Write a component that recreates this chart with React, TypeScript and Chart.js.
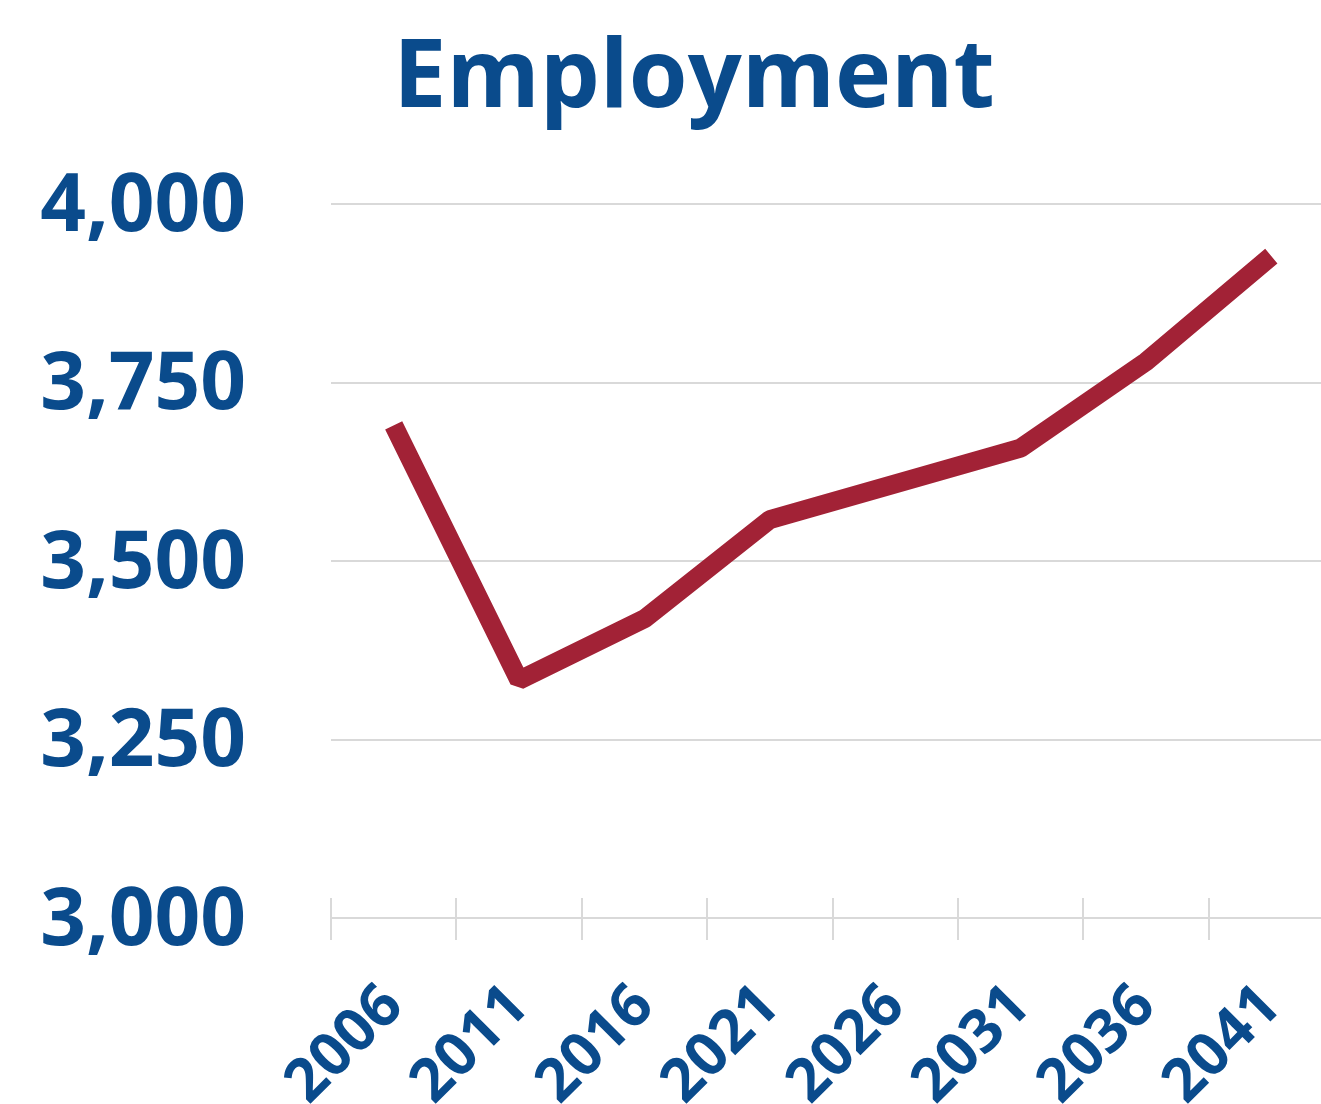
import React, { useEffect, useRef } from "react";
import { Chart, registerables } from "chart.js";

Chart.register(...registerables);

const years = ["2006", "2011", "2016", "2021", "2026", "2031", "2036", "2041"];
const employment = [3690, 3333, 3419, 3558, 3608, 3658, 3779, 3927];
const yMin = 3000;
const yMax = 4000;
const yStep = 250;
const titleText = "Employment";

const TEXT_COLOR = "#0a4b8c";
const LINE_COLOR = "#a22236";
const GRID_COLOR = "#d9d9d9";
const FONT = "'Open Sans', 'DejaVu Sans', sans-serif";

const tickMarks = {
  id: "tickMarks",
  beforeDatasetsDraw(chart: any) {
    const x = chart.scales.x;
    const y = chart.scales.y;
    const base = y.getPixelForValue(yMin);
    const ctx = chart.ctx;
    const n = x.ticks.length;
    ctx.save();
    ctx.strokeStyle = GRID_COLOR;
    ctx.lineWidth = 2;
    for (let i = 0; i <= n; i++) {
      const px = Math.round(x.left + (x.width * i) / n);
      ctx.beginPath();
      ctx.moveTo(px, base - 20);
      ctx.lineTo(px, base + 22);
      ctx.stroke();
    }
    ctx.restore();
  },
};

const titleDraw = {
  id: "titleDraw",
  afterDraw(chart: any) {
    const ctx = chart.ctx;
    ctx.save();
    ctx.fillStyle = TEXT_COLOR;
    ctx.font = `bold 95px ${FONT}`;
    ctx.textAlign = "center";
    ctx.textBaseline = "alphabetic";
    ctx.fillText(titleText, chart.width / 2 + 27, 107);
    ctx.restore();
  },
};

export default function App() {
  const canvasRef = useRef<HTMLCanvasElement | null>(null);

  useEffect(() => {
    if (!canvasRef.current) return;
    const chart = new Chart(canvasRef.current, {
      type: "line",
      data: {
        labels: years,
        datasets: [
          {
            label: titleText,
            data: employment,
            borderColor: LINE_COLOR,
            backgroundColor: LINE_COLOR,
            borderWidth: 19,
            borderJoinStyle: "bevel",
            borderCapStyle: "butt",
            pointRadius: 0,
            pointHoverRadius: 0,
            tension: 0,
            fill: false,
          },
        ],
      },
      options: {
        animation: false,
        responsive: true,
        maintainAspectRatio: false,
        layout: { padding: { left: 0, right: 0, top: 204, bottom: 0 } },
        plugins: {
          legend: { display: false },
          tooltip: { enabled: false },
          title: { display: false },
        },
        scales: {
          x: {
            offset: true,
            grid: { display: false, offset: true },
            border: { display: false },
            ticks: {
              color: TEXT_COLOR,
              font: { family: FONT, size: 60, weight: "bold" },
              maxRotation: 45,
              minRotation: 45,
              autoSkip: false,
              padding: 45,
            },
            afterFit: (s: any) => {
              s.height = 186;
              s.paddingLeft = 0;
              s.paddingRight = 0;
            },
          },
          y: {
            min: yMin,
            max: yMax,
            grid: { color: GRID_COLOR, lineWidth: 2, drawTicks: false },
            border: { display: false },
            ticks: {
              stepSize: yStep,
              color: TEXT_COLOR,
              font: { family: FONT, size: 80, weight: "bold" },
              padding: 85,
              labelOffset: 4,
              callback: (v: any) => Number(v).toLocaleString("en-US"),
            },
            afterFit: (s: any) => {
              s.width = 331;
            },
          },
        },
      },
      plugins: [tickMarks, titleDraw],
    });
    return () => chart.destroy();
  }, []);

  return (
    <div style={{ position: "fixed", left: 0, top: 0, width: 1334, height: 1104, background: "#fff" }}>
      <canvas ref={canvasRef} />
    </div>
  );
}
